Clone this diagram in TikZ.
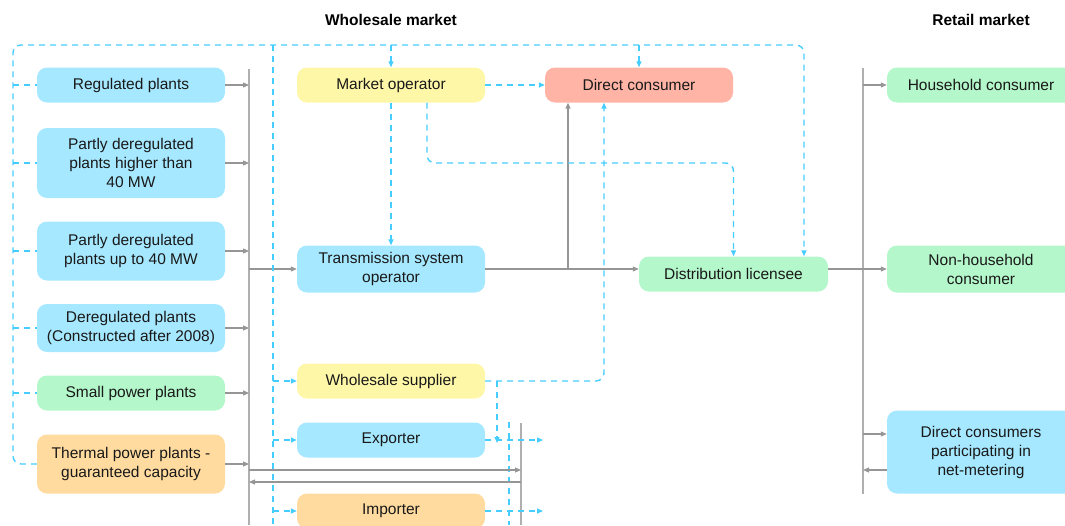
\documentclass[tikz,border=0pt]{standalone}
\usepackage{fontspec}
\setmainfont{Liberation Sans}
\usetikzlibrary{arrows.meta}

\definecolor{boxblue}{RGB}{166,232,255}
\definecolor{boxyellow}{RGB}{255,247,168}
\definecolor{boxred}{RGB}{255,180,166}
\definecolor{boxgreen}{RGB}{180,247,202}
\definecolor{boxorange}{RGB}{255,219,160}
\definecolor{dashblue}{RGB}{70,205,255}
\definecolor{linegray}{RGB}{150,150,150}
\definecolor{busgray}{RGB}{175,175,175}

\tikzset{
	box/.style={rounded corners=10pt, minimum width=188pt, minimum height=35pt,
		inner sep=0pt, align=center, text=black!90,
		font=\fontsize{15.5}{19}\selectfont},
	bluebox/.style={box, fill=boxblue},
	yellowbox/.style={box, fill=boxyellow},
	redbox/.style={box, fill=boxred},
	greenbox/.style={box, fill=boxgreen},
	orangebox/.style={box, fill=boxorange},
	title/.style={font=\fontsize{15.5}{19}\selectfont\bfseries},
	bus/.style={draw=busgray, line width=1.8pt},
	flow/.style={draw=linegray, line width=1.1pt, -{Triangle[length=6pt,width=5pt]}},
	infoline/.style={draw=dashblue, line width=1.4pt, dash pattern=on 6pt off 5pt},
	info/.style={infoline, -{Triangle[length=6pt,width=5pt]}}
}

\begin{document}
\begin{tikzpicture}[x=1pt, y=-1pt]
	\useasboundingbox (0,0) rectangle (1065,525);
	\clip (0,0) rectangle (1065,525);

	% Titles
	\node[title] (wtitle) at (391,20) {Wholesale market};
	\node[title] (rtitle) at (981,20) {Retail market};

	% Generation plants
	\node[bluebox] (reg) at (131,85) {Regulated plants};
	\node[bluebox, minimum height=70pt] (parthigh) at (131,163) {Partly deregulated\\plants higher than\\40 MW};
	\node[bluebox, minimum height=59pt] (partlow) at (131,251) {Partly deregulated\\plants up to 40 MW};
	\node[bluebox, minimum height=48pt] (dereg) at (131,328) {Deregulated plants\\(Constructed after 2008)};
	\node[greenbox] (small) at (131,393) {Small power plants};
	\node[orangebox, minimum height=59pt] (thermal) at (131,464) {Thermal power plants -\\guaranteed capacity};

	% Wholesale market
	\node[yellowbox] (mo) at (391,85) {Market operator};
	\node[redbox] (dc) at (639,85) {Direct consumer};
	\node[bluebox, minimum height=47pt] (tso) at (391,269) {Transmission system\\operator};
	\node[greenbox, minimum width=189pt] (dl) at (733.5,274) {Distribution licensee};
	\node[yellowbox] (ws) at (391,381) {Wholesale supplier};
	\node[bluebox] (exp) at (391,440) {Exporter};
	\node[orangebox] (imp) at (391,511) {Importer};

	% Retail market
	\node[greenbox] (hh) at (981,85) {Household consumer};
	\node[greenbox, minimum height=47pt] (nh) at (981,269) {Non-household\\consumer};
	\node[bluebox, minimum height=83pt] (nm) at (981,452) {Direct consumers\\participating in\\net-metering};

	% Helper coordinates
	\coordinate (loopx) at (13,0);
	\coordinate (toprow) at (0,45);
	\coordinate (ctrlrow) at (0,163);
	\coordinate (supx) at (273,0);
	\coordinate (splitx) at (568,0);
	\coordinate (wsx) at (604,0);
	\coordinate (brx) at (497,0);
	\coordinate (dlx) at (804,0);
	\coordinate (wbus) at (249,69);
	\coordinate (wbusend) at (249,525);
	\coordinate (xbus) at (521,423);
	\coordinate (xbusend) at (521,525);
	\coordinate (xdash) at (509,422);
	\coordinate (xdashend) at (509,525);
	\coordinate (rbus) at (863,68);
	\coordinate (rbusend) at (863,494);
	\coordinate (expout) at (543,440);
	\coordinate (impout) at (543,511);
	\coordinate (sellrow) at (0,470);
	\coordinate (buyrow) at (0,482);
	\coordinate (nminrow) at (0,434);

	% Bus bars
	\draw[bus] (wbus) -- (wbusend);
	\draw[bus] (xbus) -- (xbusend);
	\draw[bus] (rbus) -- (rbusend);
	\draw[infoline] (xdash) -- (xdashend);

	% Plants to wholesale bus
	\foreach \n in {reg,parthigh,partlow,dereg,small,thermal}
		\draw[flow] (\n.east) -- (\n.east -| wbus);
	\draw[flow] (tso.west -| wbus) -- (tso.west);

	% Physical flows
	\draw[flow] (tso.east) -- (tso.east -| dl.west);
	\draw[flow] (tso.east -| splitx) -- (dc.south -| splitx);
	\draw[flow] (dl.east |- nh.west) -- (nh.west);
	\draw[flow] (hh.west -| rbus) -- (hh.west);
	\draw[flow] (nminrow -| rbus) -- (nminrow -| nm.west);
	\draw[flow] (sellrow -| nm.west) -- (sellrow -| rbus);
	\draw[flow] (sellrow -| wbus) -- (sellrow -| xbus);
	\draw[flow] (buyrow -| xbus) -- (buyrow -| wbus);

	% Control loop round the plants
	\draw[info, rounded corners=8pt] (thermal.west) -- (thermal.west -| loopx)
		-- (loopx |- toprow) -- (toprow -| dlx) -- (dl.north -| dlx);
	\foreach \n in {reg,parthigh,partlow,dereg,small}
		\draw[infoline] (\n.west -| loopx) -- (\n.west);
	\draw[info] (mo.north |- toprow) -- (mo.north);
	\draw[info] (dc.north |- toprow) -- (dc.north);

	% Supplier line
	\draw[infoline] (supx |- toprow) -- (supx |- wbusend);
	\foreach \n in {ws,exp,imp}
		\draw[info] (\n.west -| supx) -- (\n.west);

	% Market operator links
	\draw[info] (mo.east) -- (dc.west);
	\draw[info] (mo.south) -- (tso.north);
	\draw[info, rounded corners=8pt] ([xshift=36pt]mo.south) |- (ctrlrow -| dl.north) -- (dl.north);

	% Wholesale supplier links
	\draw[info, rounded corners=8pt] (ws.east) -| (dc.south -| wsx);
	\draw[info, rounded corners=4pt] (ws.east -| brx) -- ([yshift=-3pt]exp.east -| brx);
	\draw[info] (exp.east) -- (expout);
	\draw[info] (imp.east) -- (impout);

\end{tikzpicture}
\end{document}
